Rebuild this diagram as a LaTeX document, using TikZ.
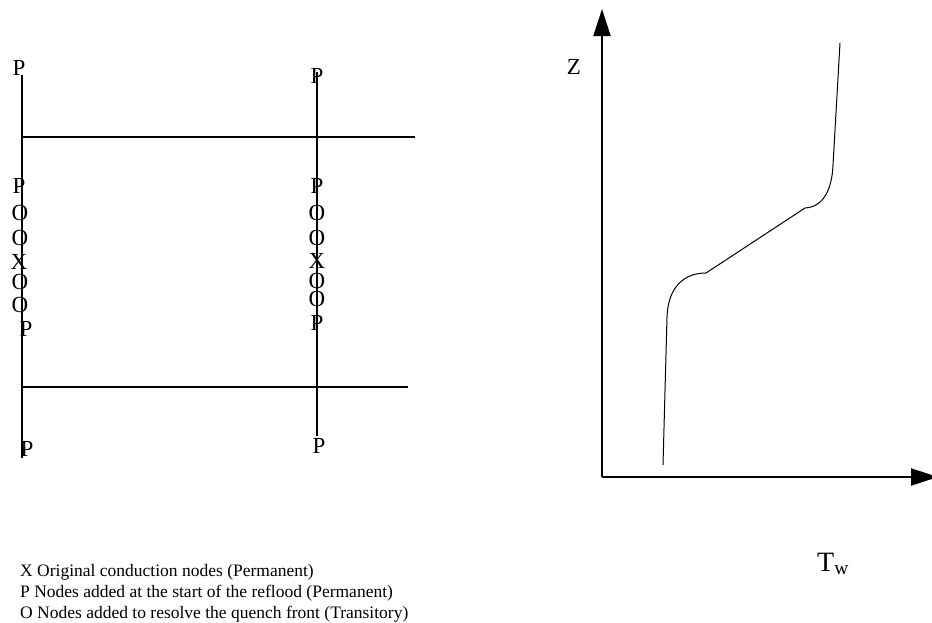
\documentclass[tikz,border=0pt]{standalone}
\usepackage{fontspec}
\setmainfont{Liberation Serif}
\usetikzlibrary{arrows.meta}
\begin{document}
\begin{tikzpicture}[x=1pt,y=-1pt,
  lbl/.style={inner sep=0pt, font=\fontsize{23}{26}\selectfont},
  legend/.style={inner sep=0pt, anchor=base west, font=\fontsize{17.5}{21}\selectfont},
  wall/.style={line width=1.8pt},
  axisline/.style={line width=2pt, -{Triangle[length=27pt,width=17pt]}},
  curveline/.style={line width=1pt}]
\useasboundingbox (0,0) rectangle (932,622);
% node diagram lines
\coordinate (L1) at (22,75);
\coordinate (L2) at (22,458);
\coordinate (R1) at (317,72);
\coordinate (R2) at (317,436);
\coordinate (T1) at (22,137);
\coordinate (T2) at (415,137);
\coordinate (B1) at (22,387);
\coordinate (B2) at (408,387);
\draw[wall] (L1) -- (L2);
\draw[wall] (R1) -- (R2);
\draw[wall] (T1) -- (T2);
\draw[wall] (B1) -- (B2);
% left column letters
\node[lbl] (lp0) at (19,68) {P};
\node[lbl] (lp1) at (19,186) {P};
\node[lbl] (lo1) at (20,213) {O};
\node[lbl] (lo2) at (20,238) {O};
\node[lbl] (lx) at (19,262) {X};
\node[lbl] (lo3) at (20,282) {O};
\node[lbl] (lo4) at (20,305) {O};
\node[lbl] (lp2) at (26,329) {P};
\node[lbl] (lp3) at (27,449) {P};
% right column letters
\node[lbl] (rp0) at (317,76) {P};
\node[lbl] (rp1) at (317,186) {P};
\node[lbl] (ro1) at (317,213) {O};
\node[lbl] (ro2) at (317,238) {O};
\node[lbl] (rx) at (317,261) {X};
\node[lbl] (ro3) at (317,281) {O};
\node[lbl] (ro4) at (317,299) {O};
\node[lbl] (rp2) at (317,323) {P};
\node[lbl] (rp3) at (319,446) {P};
% axes
\coordinate (O) at (602,477);
\coordinate (ytip) at (602,9);
\coordinate (xtip) at (938,477);
\draw[axisline] (O) -- (ytip);
\draw[axisline] (O) -- (xtip);
\node[lbl] (zlab) at (574,67) {Z};
\node[inner sep=0pt, anchor=base west, font=\fontsize{28}{32}\selectfont] (tw) at (817,571) {T\textsubscript{w}};
% wall temperature profile
\coordinate (c0) at (663,465);
\coordinate (c1) at (667,317);
\coordinate (c2) at (706,273);
\coordinate (c3) at (805,208);
\coordinate (c4) at (833,165);
\coordinate (c5) at (840,43);
\draw[curveline] (c0) -- (c1) .. controls (668,287) and (684,273) .. (c2) -- (c3) .. controls (823,207) and (832,190) .. (c4) -- (c5);
% legend
\node[legend] (leg1) at (20,576) {X Original conduction nodes (Permanent)};
\node[legend] (leg2) at (20,597) {P Nodes added at the start of the reflood (Permanent)};
\node[legend] (leg3) at (20,618) {O Nodes added to resolve the quench front (Transitory)};
\end{tikzpicture}
\end{document}
